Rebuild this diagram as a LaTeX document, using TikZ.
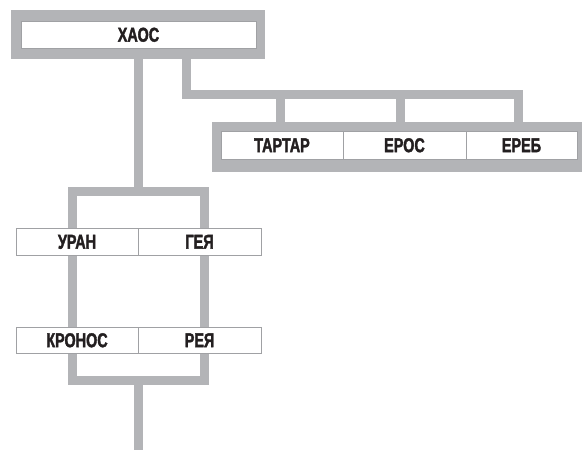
\documentclass[tikz,border=0pt]{standalone}
\usepackage{fontspec}
\setmainfont{Liberation Sans}[FakeStretch=0.72, BoldFeatures={FakeBold=1.8}]
\usetikzlibrary{backgrounds}
\definecolor{lgray}{RGB}{179,180,183}
\definecolor{cellline}{RGB}{160,161,164}
\definecolor{ink}{RGB}{35,31,32}
\tikzset{
  cell/.style={draw=cellline, line width=0.8pt, fill=white, inner sep=0pt,
    font=\fontsize{20pt}{20pt}\selectfont\bfseries, text=ink,
    text height=14.3pt, text depth=0pt, anchor=center},
  frame/.style={fill=lgray, draw=none, inner sep=0pt},
  link/.style={draw=lgray, line width=9pt}
}
\begin{document}
\begin{tikzpicture}[x=1pt,y=-1pt]
\useasboundingbox (0,0) rectangle (582,450);
% frames
\node[frame, minimum width=254pt, minimum height=49pt] (chaosframe) at (138,34.5) {};
\node[frame, minimum width=370pt, minimum height=50pt] (sonsframe) at (397,147) {};
% top cell
\node[cell, minimum width=235pt, minimum height=27pt] (chaos) at (138.5,34.5) {ХАОС};
% sons
\node[cell, minimum width=122pt, minimum height=28pt] (tartar) at (282,145) {ТАРТАР};
\node[cell, minimum width=123pt, minimum height=28pt] (eros) at (404.5,145) {ЕРОС};
\node[cell, minimum width=111pt, minimum height=28pt] (ereb) at (521.5,145) {ЕРЕБ};
% couples
\node[cell, minimum width=122pt, minimum height=27pt] (uran) at (77,241.5) {УРАН};
\node[cell, minimum width=123pt, minimum height=27pt] (geya) at (199.5,241.5) {ГЕЯ};
\node[cell, minimum width=122pt, minimum height=26pt] (kronos) at (77,340) {КРОНОС};
\node[cell, minimum width=123pt, minimum height=26pt] (reya) at (199.5,340) {РЕЯ};
% coordinates
\coordinate (loopTL) at (72,191.5);
\coordinate (loopBR) at (204.5,380.5);
\coordinate (branch) at (186,94.5);
\coordinate (branchend) at (518.5,94.5);
\coordinate (down) at (138.5,450);
\begin{pgfonlayer}{background}
  \draw[link] (chaosframe.south -| 138.5,0) -- (138.5,191.5);
  \draw[link] (loopTL) rectangle (loopBR);
  \draw[link] (138.5,380.5) -- (down);
  \draw[link] (chaosframe.south -| branch) -- (branch) -- ([xshift=4.5pt]branchend);
  \draw[link] (280,94.5) -- (sonsframe.north -| 280,0);
  \draw[link] (400,94.5) -- (sonsframe.north -| 400,0);
  \draw[link] (branchend) -- (sonsframe.north -| branchend);
\end{pgfonlayer}
\end{tikzpicture}
\end{document}
